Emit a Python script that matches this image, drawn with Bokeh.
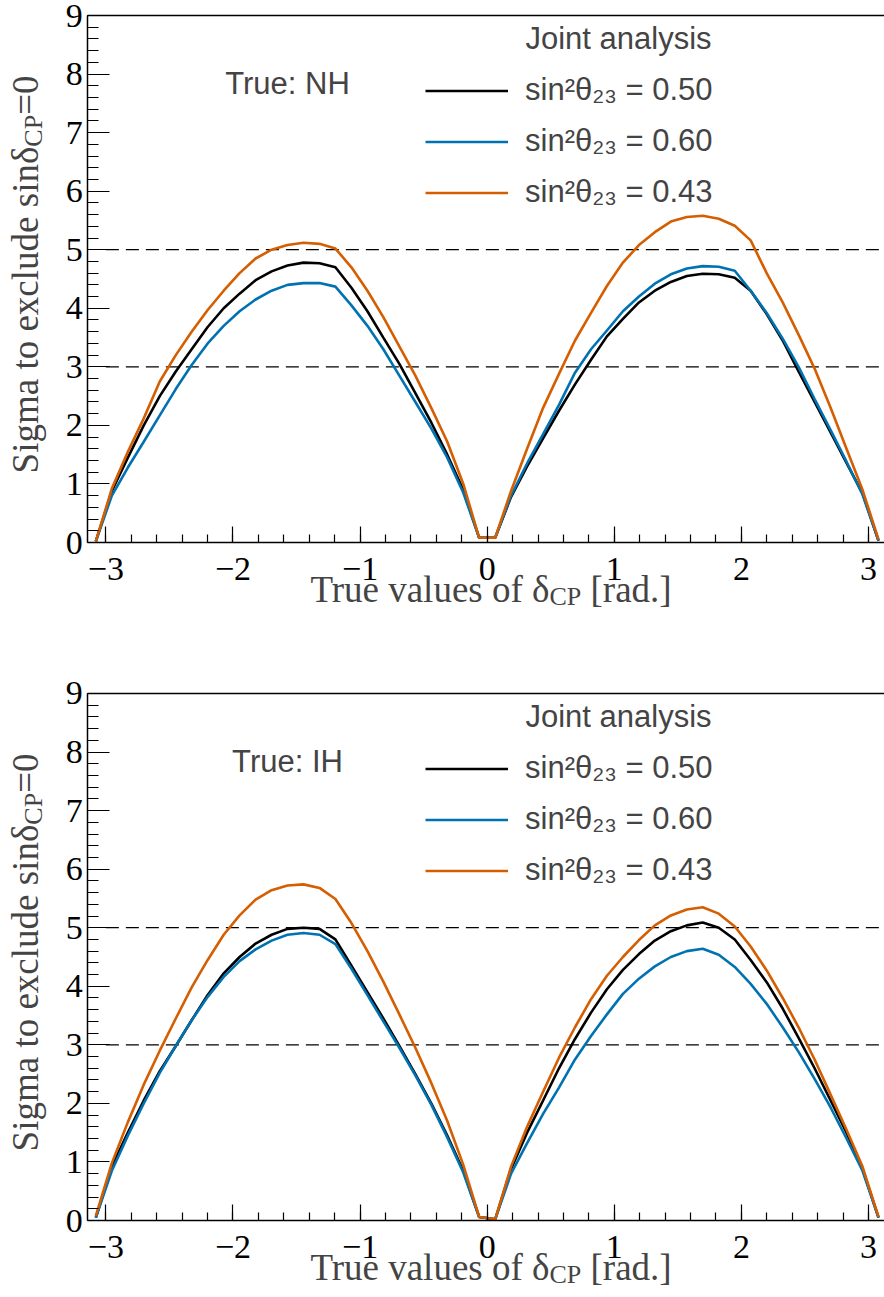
from bokeh.plotting import figure
from bokeh.models import (Range1d, SingleIntervalTicker, FixedTicker, Label, Legend,
                          LegendItem, CustomJSTickFormatter, LinearAxis)
from bokeh.layouts import column
from bokeh.embed import file_html
from bokeh.resources import INLINE

# ---------------- data ----------------
delta_cp = [-3.079, -2.953, -2.827, -2.702, -2.576, -2.450, -2.325, -2.199, -2.073, -1.948,
            -1.822, -1.696, -1.571, -1.445, -1.319, -1.194, -1.068, -0.942, -0.817, -0.691,
            -0.565, -0.440, -0.314, -0.188, -0.063, 0.063, 0.188, 0.314, 0.440, 0.565,
            0.691, 0.817, 0.942, 1.068, 1.194, 1.319, 1.445, 1.571, 1.696, 1.822,
            1.948, 2.073, 2.199, 2.325, 2.450, 2.576, 2.702, 2.827, 2.953, 3.079]

nh_s050 = [0.02, 0.88, 1.45, 2.0, 2.5, 2.92, 3.3, 3.68, 4.0, 4.25, 4.48, 4.63, 4.73, 4.78, 4.77,
           4.70, 4.35, 3.95, 3.5, 3.05, 2.55, 2.05, 1.5, 0.9, 0.08,
           0.08, 0.78, 1.3, 1.78, 2.25, 2.7, 3.12, 3.52, 3.82, 4.1, 4.3, 4.45, 4.55, 4.59, 4.58,
           4.52, 4.30, 3.9, 3.45, 2.92, 2.4, 1.88, 1.36, 0.84, 0.03]
nh_s060 = [0.02, 0.8, 1.28, 1.72, 2.17, 2.62, 3.03, 3.4, 3.7, 3.95, 4.15, 4.3, 4.4, 4.43, 4.43,
           4.37, 4.05, 3.7, 3.3, 2.85, 2.4, 1.95, 1.45, 0.85, 0.08,
           0.08, 0.8, 1.35, 1.85, 2.35, 2.9, 3.3, 3.62, 3.95, 4.2, 4.42, 4.58, 4.68, 4.72, 4.71,
           4.64, 4.30, 3.92, 3.48, 3.0, 2.45, 1.92, 1.38, 0.82, 0.03]
nh_s043 = [0.02, 0.92, 1.55, 2.12, 2.75, 3.2, 3.6, 3.97, 4.3, 4.6, 4.85, 5.0, 5.08, 5.12, 5.1,
           5.02, 4.7, 4.3, 3.85, 3.35, 2.85, 2.3, 1.72, 1.0, 0.08,
           0.08, 0.88, 1.6, 2.3, 2.88, 3.45, 3.92, 4.38, 4.78, 5.08, 5.3, 5.48, 5.56, 5.58, 5.53,
           5.41, 5.16, 4.6, 4.1, 3.55, 2.97, 2.3, 1.6, 0.9, 0.05]

ih_s050 = [0.05, 0.92, 1.5, 2.05, 2.55, 2.98, 3.42, 3.85, 4.22, 4.5, 4.73, 4.88, 4.98, 5.0, 4.98,
           4.8, 4.35, 3.9, 3.45, 2.98, 2.5, 2.0, 1.45, 0.85, 0.06,
           0.02, 0.88, 1.5, 2.05, 2.6, 3.1, 3.55, 3.95, 4.28, 4.55, 4.78, 4.94, 5.04, 5.09, 5.0,
           4.8, 4.45, 4.07, 3.62, 3.12, 2.6, 2.05, 1.5, 0.88, 0.05]
ih_s060 = [0.05, 0.85, 1.45, 2.0, 2.52, 2.98, 3.42, 3.82, 4.16, 4.43, 4.63, 4.78, 4.88, 4.91, 4.88,
           4.72, 4.3, 3.85, 3.4, 2.95, 2.48, 1.98, 1.42, 0.82, 0.06,
           0.02, 0.8, 1.32, 1.82, 2.27, 2.75, 3.15, 3.52, 3.87, 4.13, 4.34, 4.5, 4.6, 4.64, 4.54,
           4.33, 4.04, 3.7, 3.3, 2.88, 2.42, 1.93, 1.4, 0.85, 0.05]
ih_s043 = [0.08, 0.98, 1.68, 2.32, 2.9, 3.45, 3.98, 4.45, 4.88, 5.21, 5.48, 5.64, 5.72, 5.74, 5.68,
           5.49, 5.08, 4.6, 4.08, 3.52, 2.95, 2.35, 1.7, 0.95, 0.06,
           0.02, 0.92, 1.6, 2.2, 2.78, 3.3, 3.78, 4.18, 4.5, 4.79, 5.04, 5.21, 5.31, 5.35, 5.24,
           5.02, 4.68, 4.27, 3.8, 3.3, 2.75, 2.15, 1.55, 0.92, 0.06]

series_labels = ["sin²θ₂₃ = 0.50", "sin²θ₂₃ = 0.60", "sin²θ₂₃ = 0.43"]
series_colors = ["#000000", "#0072B2", "#D55E00"]
ref_levels = [3, 5]
ref_x = [-3.0, 3.1416]
x_bounds = (-3.1416, 3.1416)
y_bounds = (0, 9)

SERIF = "Liberation Serif"
SANS = "Liberation Sans"


def style_axis(ax, tick_in, minor_in, standoff):
    ax.axis_line_color = "black"
    ax.axis_line_width = 1.5
    ax.major_tick_line_color = "black"
    ax.minor_tick_line_color = "black"
    ax.major_tick_line_width = 1.2
    ax.minor_tick_line_width = 1.2
    ax.major_tick_out = 0
    ax.minor_tick_out = 0
    ax.major_tick_in = tick_in
    ax.minor_tick_in = minor_in
    ax.major_label_standoff = standoff
    ax.major_label_text_font = SERIF
    ax.major_label_text_font_size = "34px"
    ax.major_label_text_color = "black"


def make_panel(curves, hier_text, height, y_lo, y_hi, legend_loc):
    p = figure(width=884, height=height,
               x_range=Range1d(-3.829, 3.126), y_range=Range1d(y_lo, y_hi),
               output_backend="svg", toolbar_location=None,
               min_border=0, min_border_left=0, min_border_right=0,
               min_border_top=0, min_border_bottom=0)
    p.outline_line_color = None
    p.grid.visible = False
    p.background_fill_color = "white"
    p.border_fill_color = "white"

    fmt = CustomJSTickFormatter(code="return (tick < 0 ? '\u2212' : '') + Math.abs(tick).toFixed(0);")

    xa = p.xaxis[0]
    xa.ticker = SingleIntervalTicker(interval=1, num_minor_ticks=5)
    xa.formatter = fmt
    xa.fixed_location = 0
    xa.bounds = x_bounds
    style_axis(xa, 16, 8, 15)

    ya = p.yaxis[0]
    ya.ticker = SingleIntervalTicker(interval=1, num_minor_ticks=5)
    ya.formatter = fmt
    ya.fixed_location = x_bounds[0]
    ya.bounds = y_bounds
    style_axis(ya, 22, 11, 5)

    # top frame border
    top = LinearAxis(ticker=FixedTicker(ticks=[]), fixed_location=y_bounds[1],
                     bounds=x_bounds, axis_line_color="black", axis_line_width=1.5,
                     major_tick_line_color=None, minor_tick_line_color=None,
                     major_label_text_font_size="0px")
    p.add_layout(top, "above")

    # reference dashed lines
    for lv in ref_levels:
        p.line(ref_x, [lv, lv], line_color="black", line_width=1.3, line_dash="13 7")

    renderers = []
    for ys, col in zip(curves, series_colors):
        renderers.append(p.line(delta_cp, ys, line_color=col, line_width=2.6))

    legend = Legend(items=[LegendItem(label=lab, renderers=[r])
                           for lab, r in zip(series_labels, renderers)],
                    location=legend_loc, padding=0, spacing=0, margin=0,
                    glyph_width=83, glyph_height=51, label_height=51,
                    label_standoff=17, label_text_font=SANS,
                    label_text_font_size="31px", border_line_color=None,
                    background_fill_alpha=0)
    p.add_layout(legend)

    p.add_layout(Label(x=0.301, y=8.605, text="Joint analysis", text_font=SANS,
                       text_font_size="31px", text_baseline="alphabetic"))
    p.add_layout(Label(x=-1.571, y=7.835, text=hier_text, text_font=SANS,
                       text_font_size="31px", text_align="center",
                       text_baseline="alphabetic"))

    # x-axis title with subscript
    p.add_layout(Label(x=0.490, y=-0.797, text="True values of δ", text_font=SERIF,
                       text_font_size="37px", text_align="right", text_baseline="alphabetic"))
    p.add_layout(Label(x=0.490, y=-0.928, text="CP", text_font=SERIF,
                       text_font_size="26px", text_align="left", text_baseline="alphabetic"))
    p.add_layout(Label(x=0.813, y=-0.797, text="[rad.]", text_font=SERIF,
                       text_font_size="37px", text_align="left", text_baseline="alphabetic"))

    # y-axis title with subscript (rotated)
    ang = 1.5708
    p.add_layout(Label(x=-3.633, y=6.76, text="Sigma to exclude sinδ", angle=ang,
                       text_font=SERIF, text_font_size="37px", text_align="right",
                       text_baseline="alphabetic"))
    p.add_layout(Label(x=-3.570, y=6.76, text="CP", angle=ang,
                       text_font=SERIF, text_font_size="26px", text_align="left",
                       text_baseline="alphabetic"))
    p.add_layout(Label(x=-3.633, y=7.303, text="=0", angle=ang,
                       text_font=SERIF, text_font_size="37px", text_align="left",
                       text_baseline="alphabetic"))
    return p


p1 = make_panel([nh_s050, nh_s060, nh_s043], "True: NH", 660, -2.015, 9.256, (425, 442.5))
p2 = make_panel([ih_s050, ih_s060, ih_s043], "True: IH", 637, -1.3149, 9.5635, (425, 401.5))

layout = column(p1, p2, spacing=0)
open("out.html", "w").write(file_html(layout, INLINE))
